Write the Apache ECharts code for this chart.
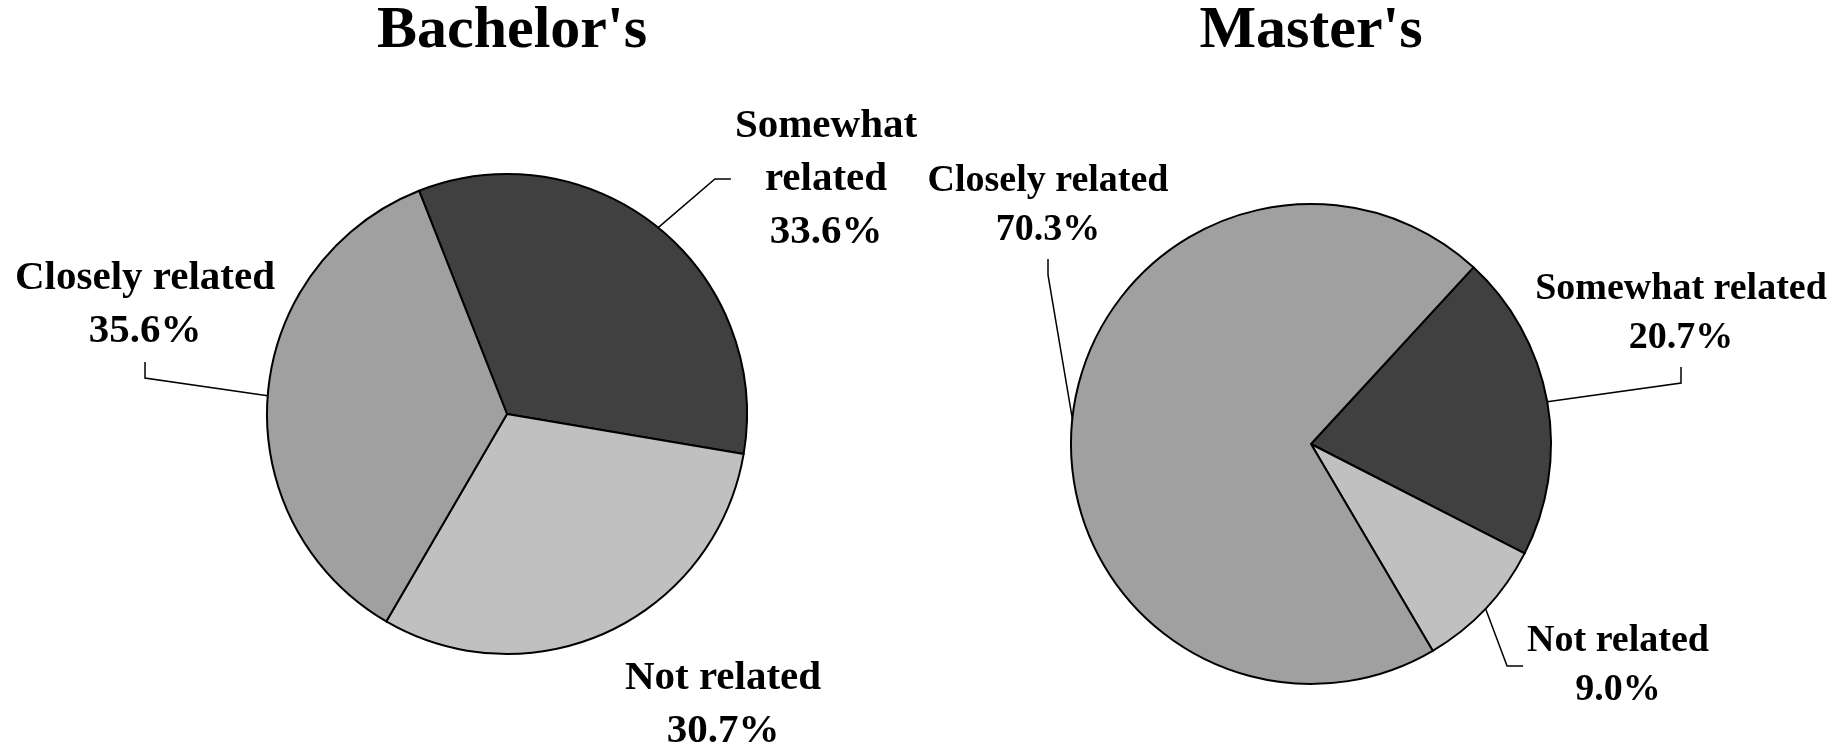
<!DOCTYPE html>
<html>
<head>
<meta charset="utf-8">
<title>Bachelor's / Master's</title>
<script src="https://cdn.jsdelivr.net/npm/echarts@6/dist/echarts.min.js"></script>
<style>
  html, body { margin: 0; padding: 0; background: #fff; }
  #chart { width: 1846px; height: 752px; }
</style>
</head>
<body>
<div id="chart"></div>
<script>
var categories = ['Somewhat related', 'Not related', 'Closely related'];
var bachelorValues = [33.6, 30.7, 35.6];
var masterValues = [20.7, 9.0, 70.3];
var titles = ["Bachelor's", "Master's"];
var sliceColors = ['#404040', '#c0c0c0', '#a0a0a0'];

// where each label sits and which side its leader line attaches to
var bachelorLabels = [
    { x: 826, y: 179, side: 'left', text: 'Somewhat\nrelated' },
    { x: 723, y: 705, side: null },
    { x: 145, y: 305, side: 'bottom' }
];
var masterLabels = [
    { x: 1681, y: 314, side: 'bottom' },
    { x: 1618, y: 666, side: 'left' },
    { x: 1048, y: 206, side: 'bottom' }
];

var font = 'Liberation Serif, Times New Roman, serif';

function buildData(values, places) {
    return values.map(function (v, i) {
        return {
            name: categories[i],
            value: v,
            itemStyle: { color: sliceColors[i] },
            labelLine: { show: !!places[i].side }
        };
    });
}

function labelFormatter(places) {
    return function (params) {
        var p = places[params.dataIndex];
        return (p.text || params.name) + '\n' + params.value.toFixed(1) + '%';
    };
}

function labelLayout(places) {
    return function (params) {
        var p = places[params.dataIndex];
        var w = params.labelRect.width;
        var h = params.labelRect.height;
        var res = { x: p.x, y: p.y, align: 'center', verticalAlign: 'middle' };
        if (p.side && params.labelLinePoints) {
            var start = params.labelLinePoints[0];
            var gap = 4, len2 = 16;
            var anchor, bend;
            if (p.side === 'left') {
                anchor = [p.x - w / 2 - gap, p.y];
                bend = [anchor[0] - len2, anchor[1]];
            } else {
                anchor = [p.x, p.y + h / 2 + gap];
                bend = [anchor[0], anchor[1] + len2];
            }
            res.labelLinePoints = [[start[0], start[1]], bend, anchor];
        }
        return res;
    };
}

function pieSeries(values, places, center, startAngle, fontSize, lineHeight) {
    return {
        type: 'pie',
        center: center,
        radius: 240,
        startAngle: startAngle,
        avoidLabelOverlap: false,
        animation: false,
        emphasis: { disabled: true },
        itemStyle: { borderColor: '#000', borderWidth: 2 },
        label: {
            show: true,
            position: 'outside',
            formatter: labelFormatter(places),
            fontFamily: font,
            fontWeight: 'bold',
            fontSize: fontSize,
            lineHeight: lineHeight,
            color: '#000'
        },
        labelLine: {
            show: true,
            length: 20,
            length2: 16,
            lineStyle: { color: '#000', width: 1.5 }
        },
        labelLayout: labelLayout(places),
        data: buildData(values, places)
    };
}

var myChart = echarts.init(document.getElementById('chart'), null, { renderer: 'canvas' });
var titleStyle = { fontFamily: font, fontWeight: 'bold', fontSize: 60, color: '#000' };
var option = {
    backgroundColor: '#fff',
    animation: false,
    title: [
        { text: titles[0], left: 512, top: 1, padding: 0, textAlign: 'center', textStyle: titleStyle },
        { text: titles[1], left: 1311, top: 1, padding: 0, textAlign: 'center', textStyle: titleStyle }
    ],
    series: [
        pieSeries(bachelorValues, bachelorLabels, [507, 414], 111.5, 41, 53),
        pieSeries(masterValues, masterLabels, [1311, 444], 47.4, 38, 49)
    ]
};
myChart.setOption(option);
</script>
</body>
</html>
